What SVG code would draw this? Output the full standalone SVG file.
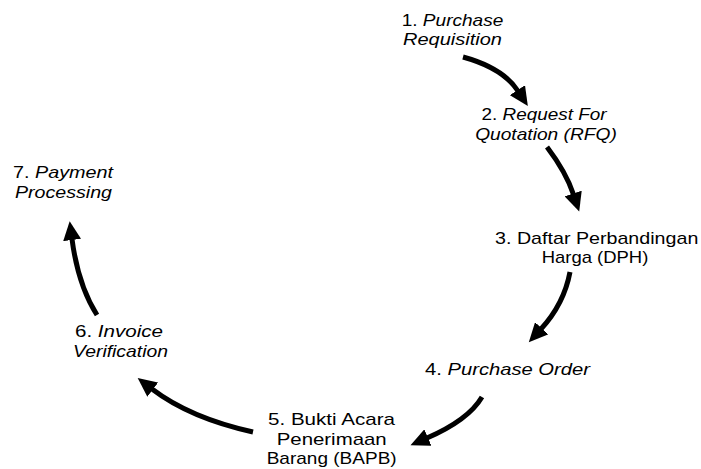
<svg xmlns="http://www.w3.org/2000/svg" width="701" height="469" viewBox="0 0 701 469">
<defs>
<style>
text{font-family:"Liberation Sans",Arial,sans-serif;font-size:17px;fill:#000;text-anchor:middle}
.i{font-style:italic}
.c{fill:none;stroke:#000;stroke-width:5;marker-end:url(#ah)}
</style>
<marker id="ah" markerUnits="userSpaceOnUse" markerWidth="20" markerHeight="18" refX="1" refY="9" orient="auto">
<path d="M0,0 L19,9 L0,18 z" fill="#000"/>
</marker>
</defs>
<rect width="701" height="469" fill="#fff"/>
<g id="connectors">
<path class="c" d="M463,57 Q503,68 518,91"/>
<path class="c" d="M547,147 Q566,172 573.5,194.5"/>
<path class="c" d="M570,272 Q564,304 541,329"/>
<path class="c" d="M482,397 C472,414 450,428 427,438"/>
<path class="c" d="M253,432 Q190,418 152,389"/>
<path class="c" d="M97,315 Q78,285 72,239"/>
</g>
<g id="node1">
<text x="452.5" y="25.5" textLength="101.6" lengthAdjust="spacingAndGlyphs">1. <tspan class="i">Purchase</tspan></text>
<text x="452.5" y="44.5" textLength="99" lengthAdjust="spacingAndGlyphs" class="i">Requisition</text>
</g>
<g id="node2">
<text x="544" y="120" textLength="125" lengthAdjust="spacingAndGlyphs">2. <tspan class="i">Request For</tspan></text>
<text x="546" y="140" textLength="141.7" lengthAdjust="spacingAndGlyphs" class="i">Quotation (RFQ)</text>
</g>
<g id="node3">
<text x="596.7" y="244" textLength="203.3" lengthAdjust="spacingAndGlyphs">3. Daftar Perbandingan</text>
<text x="595" y="263" textLength="106.6" lengthAdjust="spacingAndGlyphs">Harga (DPH)</text>
</g>
<g id="node4">
<text x="507.5" y="375" textLength="165" lengthAdjust="spacingAndGlyphs">4. <tspan class="i">Purchase Order</tspan></text>
</g>
<g id="node5">
<text x="331.5" y="425" textLength="127" lengthAdjust="spacingAndGlyphs">5. Bukti Acara</text>
<text x="331.7" y="445" textLength="110" lengthAdjust="spacingAndGlyphs">Penerimaan</text>
<text x="331.7" y="464" textLength="130" lengthAdjust="spacingAndGlyphs">Barang (BAPB)</text>
</g>
<g id="node6">
<text x="119" y="337" textLength="88" lengthAdjust="spacingAndGlyphs">6. <tspan class="i">Invoice</tspan></text>
<text x="120.5" y="357" textLength="95" lengthAdjust="spacingAndGlyphs" class="i">Verification</text>
</g>
<g id="node7">
<text x="63" y="178" textLength="100" lengthAdjust="spacingAndGlyphs">7. <tspan class="i">Payment</tspan></text>
<text x="63.5" y="198" textLength="97" lengthAdjust="spacingAndGlyphs" class="i">Processing</text>
</g>
</svg>
